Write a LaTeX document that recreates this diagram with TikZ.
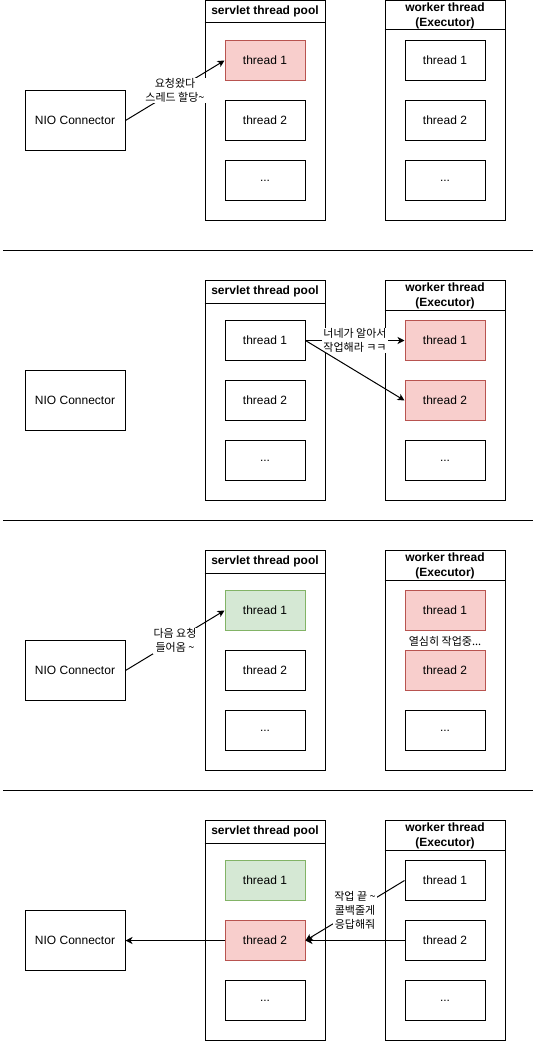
\documentclass[tikz,border=0pt]{standalone}
\usepackage{fontspec}
\setmainfont{Liberation Sans}
\newfontfamily\krfont{Noto Sans CJK KR}
\usepackage{tikz}
\usetikzlibrary{positioning,arrows.meta}
\definecolor{busyfill}{HTML}{F8CECC}
\definecolor{busyline}{HTML}{B85450}
\definecolor{freshfill}{HTML}{D5E8D4}
\definecolor{freshline}{HTML}{82B366}

\begin{document}
\begin{tikzpicture}[x=1pt,y=-1pt,line width=1pt,
    font=\fontsize{12}{14}\selectfont,
    box/.style={draw,minimum width=80pt,minimum height=40pt,inner sep=0pt},
    conn/.style={box,minimum width=100pt,minimum height=60pt},
    idle/.style={fill=white},
    busy/.style={fill=busyfill,draw=busyline},
    fresh/.style={fill=freshfill,draw=freshline},
    pool/.style={draw,minimum width=120pt,minimum height=220pt,inner sep=0pt},
    title/.style={font=\bfseries\fontsize{12}{15}\selectfont,align=center,inner sep=0pt},
    note/.style={fill=white,inner sep=1pt,align=center,font=\krfont\fontsize{11}{14}\selectfont},
    link/.style={-{Stealth[length=7pt,width=7pt,inset=2pt]}}]

    \useasboundingbox (0,-0.5) rectangle (534,1040.5);

    \foreach \sy in {250,520,790} {   % separators
        \draw (3,\sy) -- (533,\sy);
    }

    \foreach \p/\oy/\sa/\sb/\wa/\wb in {1/0/busy/idle/idle/idle,
        2/280/idle/idle/busy/busy, 3/550/fresh/idle/busy/busy,
        4/820/fresh/busy/idle/idle} {
        \node[conn] (nio\p) at (75,\oy+120) {NIO Connector};
        % servlet thread pool
        \node[pool] (sp\p) at (265,\oy+110) {};
        \draw ([yshift=-23pt]sp\p.north west) -- ([yshift=-23pt]sp\p.north east);
        \node[title] (sp\p-t) at ([yshift=-11.5pt]sp\p.north) {servlet thread pool};
        \node[box,\sa] (sp\p-1) at (265,\oy+60) {thread 1};
        \node[box,\sb] (sp\p-2) at (265,\oy+120) {thread 2};
        \node[box] (sp\p-3) at (265,\oy+180) {...};
        % worker thread
        \node[pool] (wk\p) at (445,\oy+110) {};
        \draw ([yshift=-30pt]wk\p.north west) -- ([yshift=-30pt]wk\p.north east);
        \node[title] (wk\p-t) at ([yshift=-16pt]wk\p.north) {worker thread\\(Executor)};
        \node[box,\wa] (wk\p-1) at (445,\oy+60) {thread 1};
        \node[box,\wb] (wk\p-2) at (445,\oy+120) {thread 2};
        \node[box] (wk\p-3) at (445,\oy+180) {...};
    }

    \draw[link] (nio1.east) -- node[note] {요청왔다\\스레드 할당\textasciitilde} (sp1-1.west);

    \draw[link] (sp2-1.east) -- node[note] {너네가 알아서\\작업해라 ㅋㅋ} (wk2-1.west);
    \draw[link] (sp2-1.east) -- (wk2-2.west);

    \draw[link] (nio3.east) -- node[note] {다음 요청\\들어옴 \textasciitilde} (sp3-1.west);
    \node[note,fill=none] (work3) at ([yshift=-10pt]wk3-1.south) {열심히 작업중...};

    \draw[link] (sp4-2.west) -- (nio4.east);
    \draw[link] (wk4-2.west) -- (sp4-2.east);
    \draw[link] (wk4-1.west) -- node[note] {작업 끝 \textasciitilde\\콜백줄게\\응답해줘} (sp4-2.east);

\end{tikzpicture}
\end{document}
